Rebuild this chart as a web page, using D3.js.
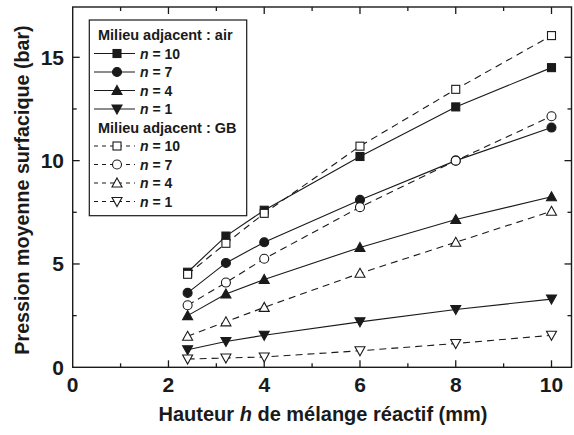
<!DOCTYPE html>
<html>
<head>
<meta charset="utf-8">
<script src="https://cdn.jsdelivr.net/npm/d3@7"></script>
<style>
  html, body { margin: 0; padding: 0; background: #fff; }
  svg { display: block; font-family: "Liberation Sans", Arial, sans-serif; }
</style>
</head>
<body>
<svg id="chart" width="574" height="435"></svg>
<script>
// Reactive mixture height h (mm)
const heights = [2.4, 3.2, 4, 6, 8, 10];

// Mean surface pressure (bar), adjacent medium: air
const air10 = [4.6, 6.35, 7.6, 10.2, 12.6, 14.5];
const air7  = [3.6, 5.05, 6.05, 8.1, 10.0, 11.6];
const air4  = [2.5, 3.55, 4.25, 5.8, 7.15, 8.25];
const air1  = [0.85, 1.25, 1.55, 2.2, 2.8, 3.3];

// Mean surface pressure (bar), adjacent medium: GB
const gb10 = [4.5, 6.0, 7.45, 10.7, 13.45, 16.05];
const gb7  = [3.0, 4.1, 5.25, 7.75, 10.0, 12.15];
const gb4  = [1.5, 2.2, 2.9, 4.55, 6.05, 7.55];
const gb1  = [0.4, 0.45, 0.5, 0.8, 1.15, 1.55];

const xTicks = [0, 2, 4, 6, 8, 10];
const yTicks = [0, 5, 10, 15];

const series = [
  { group: "air", n: "10", values: air10, shape: "square",  filled: true },
  { group: "air", n: "7",  values: air7,  shape: "circle",  filled: true },
  { group: "air", n: "4",  values: air4,  shape: "up",      filled: true },
  { group: "air", n: "1",  values: air1,  shape: "down",    filled: true },
  { group: "GB",  n: "10", values: gb10,  shape: "square",  filled: false },
  { group: "GB",  n: "7",  values: gb7,   shape: "circle",  filled: false },
  { group: "GB",  n: "4",  values: gb4,   shape: "up",      filled: false },
  { group: "GB",  n: "1",  values: gb1,   shape: "down",    filled: false }
];

const svg = d3.select("#chart");
const plotLeft = 72.7, plotRight = 571.5, plotTop = 7, plotBottom = 367.3;

const x = d3.scaleLinear().domain([0, 10]).range([plotLeft, 551.5]);
const xMax = x.invert(plotRight);
const y = d3.scaleLinear().domain([0, 15]).range([plotBottom, 57.3]);
const yMax = y.invert(plotTop);

const ink = "#1a1a1a";

// Plot frame
svg.append("rect")
  .attr("x", plotLeft).attr("y", plotTop)
  .attr("width", plotRight - plotLeft).attr("height", plotBottom - plotTop)
  .attr("fill", "none").attr("stroke", ink).attr("stroke-width", 1.4);

// Inward ticks on all four sides
const xMinor = d3.range(1, xMax, 2);
const yMinor = d3.range(2.5, yMax, 5);
const tickG = svg.append("g").attr("stroke", ink).attr("stroke-width", 1.3);
function tickMarks(vals, len) {
  vals.forEach(v => {
    tickG.append("line").attr("x1", x(v)).attr("x2", x(v)).attr("y1", plotBottom).attr("y2", plotBottom - len);
    tickG.append("line").attr("x1", x(v)).attr("x2", x(v)).attr("y1", plotTop).attr("y2", plotTop + len);
  });
}
function tickMarksY(vals, len) {
  vals.forEach(v => {
    tickG.append("line").attr("y1", y(v)).attr("y2", y(v)).attr("x1", plotLeft).attr("x2", plotLeft + len);
    tickG.append("line").attr("y1", y(v)).attr("y2", y(v)).attr("x1", plotRight).attr("x2", plotRight - len);
  });
}
tickMarks(xTicks.filter(v => v > 0), 7);
tickMarks(xMinor, 4);
tickMarksY(yTicks.filter(v => v > 0), 7);
tickMarksY(yMinor, 4);

// Tick labels
svg.append("g").selectAll("text").data(xTicks).join("text")
  .attr("x", d => x(d)).attr("y", 392)
  .attr("text-anchor", "middle")
  .attr("font-size", 21).attr("font-weight", "bold").attr("fill", ink)
  .text(d => d);

svg.append("g").selectAll("text").data(yTicks).join("text")
  .attr("x", 64).attr("y", d => y(d) + 7.5)
  .attr("text-anchor", "end")
  .attr("font-size", 21).attr("font-weight", "bold").attr("fill", ink)
  .text(d => d);

// Axis titles
const xt = svg.append("text")
  .attr("x", 323).attr("y", 421)
  .attr("text-anchor", "middle")
  .attr("font-size", 20).attr("font-weight", "bold").attr("fill", ink);
xt.append("tspan").text("Hauteur ");
xt.append("tspan").attr("font-style", "italic").text("h");
xt.append("tspan").text(" de mélange réactif (mm)");

svg.append("text")
  .attr("transform", "translate(29,190) rotate(-90)")
  .attr("text-anchor", "middle")
  .attr("font-size", 19.7).attr("font-weight", "bold").attr("fill", ink)
  .text("Pression moyenne surfacique (bar)");

// Marker drawing
function marker(g, shape, filled, cx, cy) {
  const fill = filled ? ink : "#fff";
  const common = s => s.attr("fill", fill).attr("stroke", ink).attr("stroke-width", 1.1);
  if (shape === "square") {
    common(g.append("rect").attr("x", cx - 4).attr("y", cy - 4).attr("width", 8).attr("height", 8));
  } else if (shape === "circle") {
    common(g.append("circle").attr("cx", cx).attr("cy", cy).attr("r", 4.5));
  } else if (shape === "up") {
    common(g.append("path").attr("d", `M${cx},${cy - 5}L${cx + 5},${cy + 4}L${cx - 5},${cy + 4}Z`));
  } else {
    common(g.append("path").attr("d", `M${cx},${cy + 5}L${cx + 5},${cy - 4}L${cx - 5},${cy - 4}Z`));
  }
}

const line = d3.line().x((d, i) => x(heights[i])).y(d => y(d));
const plotG = svg.append("g");
series.forEach(s => {
  plotG.append("path")
    .attr("d", line(s.values))
    .attr("fill", "none").attr("stroke", ink).attr("stroke-width", 1.1)
    .attr("stroke-dasharray", s.filled ? null : "7,5");
});
series.forEach(s => {
  const g = plotG.append("g");
  s.values.forEach((v, i) => marker(g, s.shape, s.filled, x(heights[i]), y(v)));
});

// Legend
const lg = svg.append("g");
lg.append("rect").attr("x", 89.3).attr("y", 20).attr("width", 157.4).attr("height", 195.7)
  .attr("fill", "#fff").attr("stroke", ink).attr("stroke-width", 1.2);

const rowH = 18.5;
let ry = 35;
["air", "GB"].forEach(grp => {
  lg.append("text").attr("x", 98).attr("y", ry + 5)
    .attr("font-size", 14.5).attr("font-weight", "bold").attr("fill", ink)
    .text("Milieu adjacent : " + grp);
  ry += rowH;
  series.filter(s => s.group === grp).forEach(s => {
    lg.append("line").attr("x1", 94).attr("x2", 135).attr("y1", ry).attr("y2", ry)
      .attr("stroke", ink).attr("stroke-width", 1.2)
      .attr("stroke-dasharray", s.filled ? null : "4,4");
    marker(lg, s.shape, s.filled, 117, ry);
    const t = lg.append("text").attr("x", 140).attr("y", ry + 5)
      .attr("font-size", 14).attr("font-weight", "bold").attr("fill", ink);
    t.append("tspan").attr("font-style", "italic").text("n");
    t.append("tspan").text(" = " + s.n);
    ry += rowH;
  });
});
</script>
</body>
</html>
